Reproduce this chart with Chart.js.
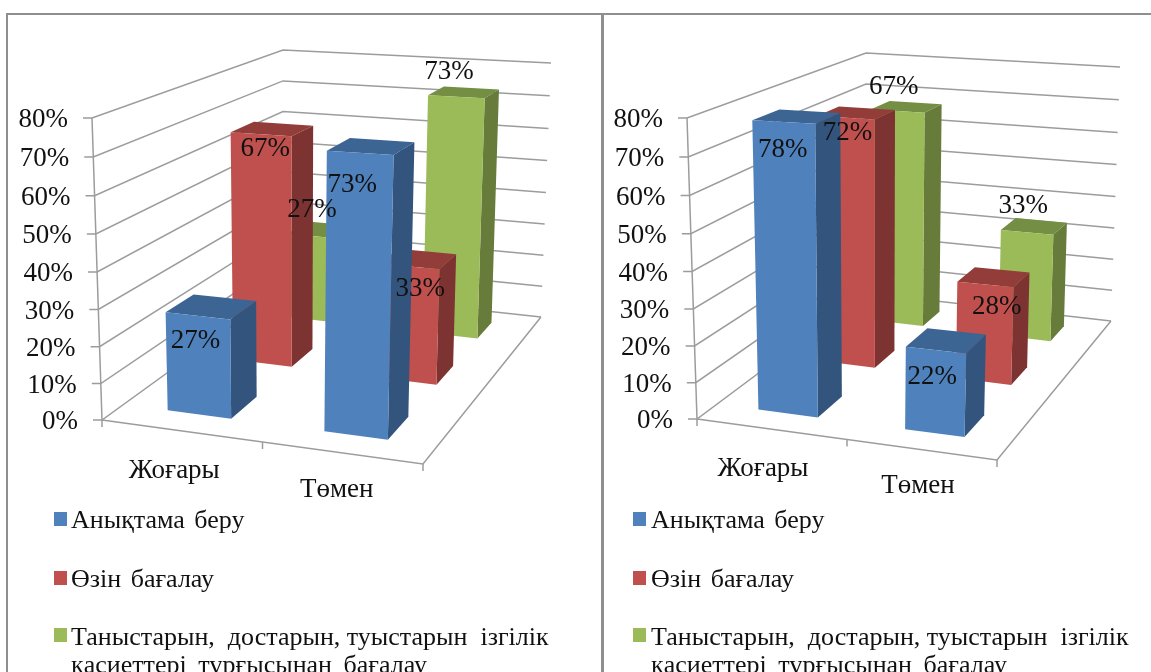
<!DOCTYPE html>
<html>
<head>
<meta charset="utf-8">
<script src="https://cdn.jsdelivr.net/npm/chart.js@4"></script>
<style>
    html, body { margin: 0; background: #fff; overflow: hidden; }
    #page { position: relative; width: 1151px; height: 672px; overflow: hidden; font-family: "Liberation Serif", serif; color: #111; filter: blur(0.4px); }
    canvas { position: absolute; top: 0; }
    .frame { position: absolute; background: #8f8f8f; }
    .swatch { position: absolute; width: 13px; height: 14px; }
    .legend-text { position: absolute; font-size: 26px; line-height: 28px; white-space: pre; }
</style>
</head>
<body>
<div id="page">
    <canvas id="leftChart" width="600" height="672" style="left:0"></canvas>
    <canvas id="rightChart" width="551" height="672" style="left:600px"></canvas>
    <div class="frame" style="left:7px;top:13px;width:1144px;height:2px"></div>
    <div class="frame" style="left:6px;top:13px;width:2px;height:659px"></div>
    <div class="frame" style="left:601px;top:13px;width:3px;height:659px"></div>
</div>
<script>
const categories = ['Жоғары', 'Төмен'];
const seriesNames = ['Анықтама беру', 'Өзін бағалау', 'Таныстарын, достарын, туыстарын ізгілік қасиеттері тұрғысынан бағалау'];
const legendLines = [['Анықтама беру'], ['Өзін бағалау'], ['Таныстарын,  достарын, туыстарын  ізгілік', 'қасиеттері тұрғысынан бағалау']];

const leftDefinition = [27, 73];
const leftSelf = [67, 33];
const leftFriends = [27, 73];

const rightDefinition = [78, 22];
const rightSelf = [72, 28];
const rightFriends = [67, 33];

const valueTicksMax = 80;
const valueTicksStep = 10;

const frontColors = ['#4f81bd', '#c0504d', '#9bbb59'];
const topColors = ['#3d6593', '#933d3a', '#748e43'];
const sideColors = ['#33547c', '#7c3331', '#677c3b'];
const lineColor = '#9c9c9c';
const textColor = '#111';
const serif = '"Liberation Serif", serif';

// how far back each series stands on the floor (0 front, 1 back)
const depthRanges = [[0.12, 0.28], [0.50, 0.63], [0.82, 0.93]];
const squeeze = 1.04; // upper part of the value axis looks a bit longer
const barNudge = -0.0085; // bars sit slightly left of the category centres
const textDrop = 2; // 'middle' baseline sits above the middle of the digits

// value axis drawn in perspective, labels follow the slanted axis line
class SlantedScale extends Chart.LinearScale {
    getPixelForValue(value) {
        const f = (value - this.min) / (this.max - this.min);
        const g = f / (f + (1 - f) * squeeze);
        return this.bottom - g * (this.bottom - this.top);
    }
    getValueForPixel(pixel) {
        const g = (this.bottom - pixel) / (this.bottom - this.top);
        return this.min + (this.max - this.min) * (g * squeeze / (1 - g + g * squeeze));
    }
    _computeLabelItems(chartArea) {
        const items = super._computeLabelItems(chartArea);
        const [topX, bottomX] = this.options.labelRight;
        items.forEach(item => {
            const y = item.options.translation[1];
            const f = (y - this.top) / (this.bottom - this.top);
            item.options.translation = [topX + (bottomX - topX) * f, y + textDrop];
        });
        return items;
    }
}
SlantedScale.id = 'slanted';
SlantedScale.defaults = Chart.LinearScale.defaults;
Chart.register(SlantedScale);

function lerp(a, b, t) {
    return { x: a.x + (b.x - a.x) * t, y: a.y + (b.y - a.y) * t };
}

function project(box, u, w, t) {
    const floor = lerp(lerp(box.floor.fl, box.floor.fr, u), lerp(box.floor.bl, box.floor.br, u), w);
    const roof = lerp(lerp(box.roof.fl, box.roof.fr, u), lerp(box.roof.bl, box.roof.br, u), w);
    return lerp(floor, roof, t);
}

function poly(ctx, points, fill) {
    ctx.beginPath();
    points.forEach((p, i) => i ? ctx.lineTo(p.x, p.y) : ctx.moveTo(p.x, p.y));
    ctx.closePath();
    ctx.fillStyle = fill;
    ctx.fill();
}

function strokeLine(ctx, points) {
    ctx.beginPath();
    points.forEach((p, i) => i ? ctx.lineTo(p.x, p.y) : ctx.moveTo(p.x, p.y));
    ctx.stroke();
}

const box3d = {
    id: 'box3d',
    beforeDatasetsDraw(chart) {
        const ctx = chart.ctx;
        const box = chart.options.plugins.box3d.box;
        const yScale = chart.scales.y;
        const area = chart.chartArea;
        ctx.save();
        ctx.strokeStyle = lineColor;
        ctx.lineWidth = 1.5;
        yScale.ticks.forEach(tick => {
            const t = (area.bottom - yScale.getPixelForValue(tick.value)) / (area.bottom - area.top);
            const a = project(box, 0, 0, t);
            strokeLine(ctx, [{ x: a.x - 9, y: a.y }, a, project(box, 0, 1, t), project(box, 1, 1, t)]);
        });
        strokeLine(ctx, [project(box, 0, 0, 1), project(box, 0, 0, 0)]);
        strokeLine(ctx, [box.floor.fl, box.floor.fr, box.floor.br]);
        [0, 0.5, 1].forEach(u => {
            const p = project(box, u, 0, 0);
            strokeLine(ctx, [p, { x: p.x, y: p.y + 7 }]);
        });
        ctx.restore();
    },
    beforeDatasetDraw(chart, args) {
        const ctx = chart.ctx;
        const box = chart.options.plugins.box3d.box;
        const area = chart.chartArea;
        const [w0, w1] = depthRanges[args.index];
        args.meta.data.forEach(bar => {
            const u0 = (bar.x - bar.width / 2 - area.left) / (area.right - area.left) + barNudge;
            const u1 = (bar.x + bar.width / 2 - area.left) / (area.right - area.left) + barNudge;
            const t = (bar.base - bar.y) / (area.bottom - area.top);
            poly(ctx, [project(box, u0, w0, t), project(box, u1, w0, t), project(box, u1, w1, t), project(box, u0, w1, t)], topColors[args.index]);
            poly(ctx, [project(box, u1, w0, 0), project(box, u1, w1, 0), project(box, u1, w1, t), project(box, u1, w0, t)], sideColors[args.index]);
            poly(ctx, [project(box, u0, w0, 0), project(box, u1, w0, 0), project(box, u1, w0, t), project(box, u0, w0, t)], frontColors[args.index]);
        });
        return false;
    },
    afterDatasetsDraw(chart) {
        const ctx = chart.ctx;
        const opts = chart.options.plugins.box3d;
        const box = opts.box;
        const area = chart.chartArea;
        const xScale = chart.scales.x;
        ctx.save();
        ctx.fillStyle = textColor;
        ctx.font = '27px ' + serif;
        ctx.textAlign = 'center';
        ctx.textBaseline = 'middle';
        chart.data.datasets.forEach((dataset, s) => {
            const meta = chart.getDatasetMeta(s);
            const wMid = (depthRanges[s][0] + depthRanges[s][1]) / 2;
            meta.data.forEach((bar, i) => {
                const u = (bar.x - area.left) / (area.right - area.left) + barNudge;
                const t = (bar.base - bar.y) / (area.bottom - area.top);
                const p = project(box, u, wMid, t);
                const shift = opts.labelShift[s][i];
                ctx.fillText(dataset.data[i] + '%', p.x + shift[0], p.y + shift[1] + textDrop);
            });
        });
        categories.forEach((name, i) => {
            const u = (xScale.getPixelForValue(i) - area.left) / (area.right - area.left);
            const p = project(box, u, 0, 0);
            ctx.fillText(name, p.x + opts.categoryShift[i][0], p.y + opts.categoryShift[i][1] + textDrop);
        });
        ctx.restore();
    }
};

function makeChart(canvasId, values, layout) {
    return new Chart(document.getElementById(canvasId), {
        type: 'bar',
        data: {
            labels: categories,
            datasets: seriesNames.map((name, s) => ({
                label: name,
                data: values[s],
                backgroundColor: frontColors[s]
            }))
        },
        plugins: [box3d],
        options: {
            responsive: false,
            animation: false,
            layout: { padding: { top: 118, bottom: 672 - layout.floorY, right: 100 } },
            datasets: { bar: { grouped: false, barPercentage: 0.405, categoryPercentage: 1 } },
            plugins: {
                legend: { display: false },
                tooltip: { enabled: false },
                box3d: layout
            },
            scales: {
                x: { display: false },
                y: {
                    type: 'slanted',
                    min: 0,
                    max: valueTicksMax,
                    labelRight: layout.labelRight,
                    afterFit: scale => { scale.width = 100; },
                    grid: { display: false },
                    border: { display: false },
                    ticks: {
                        stepSize: valueTicksStep,
                        autoSkip: false,
                        color: textColor,
                        font: { family: serif, size: 27 },
                        callback: value => value + '%'
                    }
                }
            }
        }
    });
}

function addLegend(swatchX, textX) {
    const page = document.getElementById('page');
    const swatchTops = [512, 571, 628];
    const textTops = [506, 565, 623];
    const wordGaps = [[3], [3], [0, 5]];
    legendLines.forEach((lines, s) => {
        const swatch = document.createElement('div');
        swatch.className = 'swatch';
        swatch.style.left = swatchX + 'px';
        swatch.style.top = swatchTops[s] + 'px';
        swatch.style.background = frontColors[s];
        page.appendChild(swatch);
        lines.forEach((line, i) => {
            const text = document.createElement('div');
            text.className = 'legend-text';
            text.style.left = textX + 'px';
            text.style.top = (textTops[s] + i * 28) + 'px';
            text.style.wordSpacing = wordGaps[s][i] + 'px';
            text.textContent = line;
            page.appendChild(text);
        });
    });
}

makeChart('leftChart', [leftDefinition, leftSelf, leftFriends], {
    floorY: 420,
    labelRight: [68, 78],
    box: {
        floor: { fl: { x: 102, y: 420 }, fr: { x: 423, y: 464 }, bl: { x: 283, y: 289 }, br: { x: 541, y: 317 } },
        roof: { fl: { x: 92, y: 118 }, fr: { x: 432, y: 139 }, bl: { x: 283, y: 50 }, br: { x: 551, y: 63 } }
    },
    labelShift: [[[-16, 32], [-19, 36]], [[-7, 18], [2, 28]], [[-13, -22], [-15, -22]]],
    categoryShift: [[-8, 38], [-6, 35]]
});

makeChart('rightChart', [rightDefinition, rightSelf, rightFriends], {
    floorY: 419,
    labelRight: [63, 73],
    box: {
        floor: { fl: { x: 97, y: 419 }, fr: { x: 397, y: 460 }, bl: { x: 266, y: 293 }, br: { x: 511, y: 321 } },
        roof: { fl: { x: 87, y: 118 }, fr: { x: 406, y: 135 }, bl: { x: 266, y: 53 }, br: { x: 520, y: 67 } }
    },
    labelShift: [[[-14, 31], [-14, 34]], [[-9, 18], [3, 28]], [[-13, -22], [-11, -22]]],
    categoryShift: [[-9, 38], [-4, 34]]
});

addLegend(54, 71);
addLegend(633, 651);
</script>
</body>
</html>
